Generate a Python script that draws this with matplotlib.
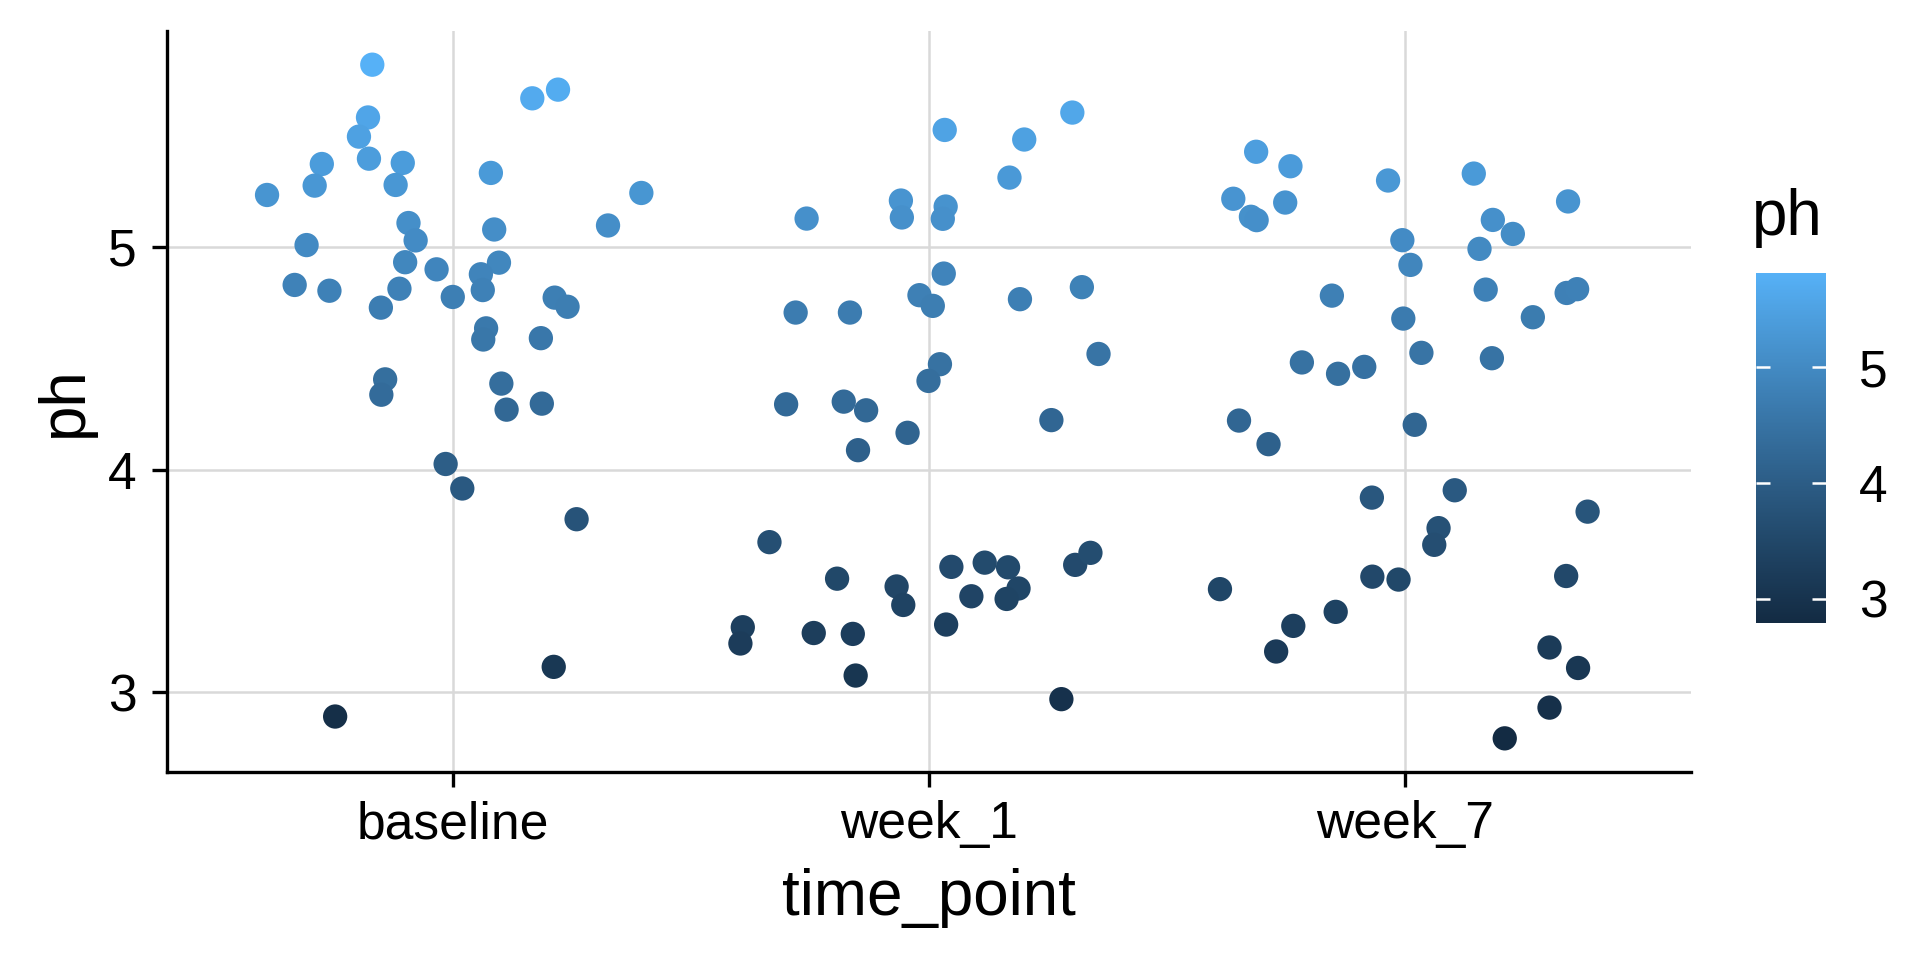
import numpy as np
import matplotlib
matplotlib.use('Agg')
import matplotlib.pyplot as plt
from matplotlib.colors import ListedColormap, Normalize

plt.rcParams['font.family'] = ['Liberation Sans', 'DejaVu Sans']

# categories and values (jitter offset, ph)
time_points = ['baseline', 'week_1', 'week_7']

baseline_jit = [-0.169, 0.167, 0.221, -0.178, -0.197, -0.176, -0.105, -0.275, -0.290, -0.120,
                -0.390, 0.080, 0.396, 0.326, 0.087, -0.093, -0.078, -0.307, -0.100, -0.034,
                0.097, 0.059, 0.063, 0.000, -0.332, -0.259, -0.112, -0.151, 0.214, 0.241,
                0.070, 0.064, 0.185, -0.142, -0.150, 0.102, 0.113, 0.187, -0.015, 0.020,
                0.260, 0.212, -0.247]
baseline_ph = [5.818, 5.667, 5.706, 5.581, 5.495, 5.396, 5.377, 5.372, 5.275, 5.278,
               5.233, 5.332, 5.242, 5.096, 5.078, 5.107, 5.029, 5.008, 4.931, 4.899,
               4.929, 4.877, 4.806, 4.775, 4.829, 4.803, 4.812, 4.727, 4.772, 4.731,
               4.634, 4.584, 4.590, 4.405, 4.336, 4.386, 4.269, 4.296, 4.025, 3.915,
               3.777, 3.114, 2.891]

week1_jit = [0.033, 0.200, 0.301, 0.169, -0.059, -0.057, 0.035, 0.029, -0.257, 0.031,
             -0.020, 0.008, 0.191, 0.321, -0.280, -0.166, 0.356, 0.023, -0.001, -0.300,
             -0.179, -0.132, 0.257, -0.045, -0.149, -0.335, -0.193, -0.068, -0.054, 0.047,
             0.117, 0.166, 0.188, 0.163, 0.089, 0.307, 0.339, 0.036, -0.391, -0.396,
             -0.242, -0.160, -0.154, 0.278]
week1_ph = [5.525, 5.482, 5.603, 5.311, 5.208, 5.132, 5.181, 5.126, 5.127, 4.880,
            4.783, 4.735, 4.765, 4.819, 4.705, 4.705, 4.519, 4.473, 4.398, 4.293,
            4.305, 4.266, 4.222, 4.165, 4.087, 3.674, 3.510, 3.475, 3.392, 3.563,
            3.582, 3.561, 3.466, 3.419, 3.431, 3.572, 3.626, 3.304, 3.292, 3.219,
            3.266, 3.262, 3.075, 2.969]

week7_jit = [-0.313, -0.241, -0.361, -0.252, -0.324, -0.312, -0.036, 0.144, 0.342, 0.184,
             0.226, 0.156, -0.006, 0.011, -0.154, 0.169, 0.339, 0.361, 0.268, -0.004,
             0.034, 0.182, -0.217, -0.141, -0.086, -0.349, -0.287, 0.020, -0.070, 0.104,
             0.070, 0.061, 0.383, -0.069, -0.014, 0.338, -0.389, -0.146, -0.235, -0.271,
             0.303, 0.363, 0.303, 0.209]
week7_ph = [5.427, 5.362, 5.216, 5.199, 5.135, 5.120, 5.298, 5.329, 5.204, 5.121,
            5.058, 4.991, 5.030, 4.919, 4.781, 4.808, 4.793, 4.810, 4.684, 4.678,
            4.524, 4.500, 4.481, 4.430, 4.461, 4.220, 4.114, 4.201, 3.874, 3.907,
            3.737, 3.662, 3.811, 3.519, 3.506, 3.522, 3.463, 3.361, 3.298, 3.183,
            3.201, 3.109, 2.931, 2.793]

jits = [baseline_jit, week1_jit, week7_jit]
phs = [baseline_ph, week1_ph, week7_ph]


####ggplot-like gradient, interpolated in Lab
def hex2rgb(h):
    return np.array([int(h[i:i + 2], 16) for i in (1, 3, 5)]) / 255.0

M = np.array([[0.4124, 0.3576, 0.1805], [0.2126, 0.7152, 0.0722], [0.0193, 0.1192, 0.9505]])
WHITE = np.array([0.95047, 1.0, 1.08883])
d = 6 / 29

def rgb2lab(c):
    lin = np.where(c <= 0.04045, c / 12.92, ((c + 0.055) / 1.055) ** 2.4)
    xyz = M @ lin / WHITE
    f = np.where(xyz > d ** 3, np.cbrt(xyz), xyz / (3 * d ** 2) + 4 / 29)
    return np.array([116 * f[1] - 16, 500 * (f[0] - f[1]), 200 * (f[1] - f[2])])

def lab2rgb(lab):
    fy = (lab[0] + 16) / 116
    f = np.array([fy + lab[1] / 500, fy, fy - lab[2] / 200])
    xyz = np.where(f > d, f ** 3, 3 * d ** 2 * (f - 4 / 29)) * WHITE
    lin = np.linalg.solve(M, xyz)
    c = np.where(lin <= 0.0031308, 12.92 * lin, 1.055 * np.clip(lin, 0, None) ** (1 / 2.4) - 0.055)
    return np.clip(c, 0, 1)

lo, hi = rgb2lab(hex2rgb('#132B43')), rgb2lab(hex2rgb('#56B1F7'))
cmap = ListedColormap([lab2rgb(lo + t * (hi - lo)) for t in np.linspace(0, 1, 256)])

all_ph = np.concatenate([np.array(p) for p in phs])
norm = Normalize(vmin=all_ph.min(), vmax=all_ph.max())
####

SMALL = 12.4
BIG = 15.3

fig = plt.figure(figsize=(6.4, 3.2), dpi=300)
ax = fig.add_axes([0.087, 0.1958, 0.7937, 0.7719])

for i, (jit, ph) in enumerate(zip(jits, phs)):
    xs = i + 1 + np.array(jit)
    sc = ax.scatter(xs, ph, c=ph, cmap=cmap, norm=norm, s=34, linewidths=0, zorder=3)

rng = all_ph.max() - all_ph.min()
ax.set_ylim(all_ph.min() - 0.05 * rng, all_ph.max() + 0.05 * rng)
ax.set_xlim(0.4, 3.6)
ax.set_xticks([1, 2, 3])
ax.set_xticklabels(time_points)
ax.set_yticks([3, 4, 5])

ax.grid(True, color='#d9d9d9', linewidth=0.6)
ax.set_axisbelow(True)
for s in ['top', 'right']:
    ax.spines[s].set_visible(False)
for s in ['left', 'bottom']:
    ax.spines[s].set_linewidth(0.8)
ax.tick_params(axis='both', length=3.6, width=0.8, labelsize=SMALL, color='black')
ax.tick_params(axis='x', pad=3.2)
ax.tick_params(axis='y', pad=3.8)

ax.set_xlabel('time_point', fontsize=BIG, va='baseline')
ax.xaxis.set_label_coords(0.5, -143 / 741)
ax.set_ylabel('ph', fontsize=BIG, labelpad=3)

# colourbar legend
cax = fig.add_axes([0.9144, 0.3514, 0.0365, 0.3646])
cb = fig.colorbar(sc, cax=cax)
cb.outline.set_visible(False)
cb.set_ticks([3, 4, 5])
cax.tick_params(length=0, labelsize=SMALL, pad=8)
cax.hlines([3, 4, 5], 0, 0.2, color='white', linewidth=0.6)
cax.hlines([3, 4, 5], 0.8, 1, color='white', linewidth=0.6)
fig.text(0.9125, 1 - 235 / 960, 'ph', fontsize=BIG, ha='left', va='baseline')

plt.savefig('out.png', dpi=300)
